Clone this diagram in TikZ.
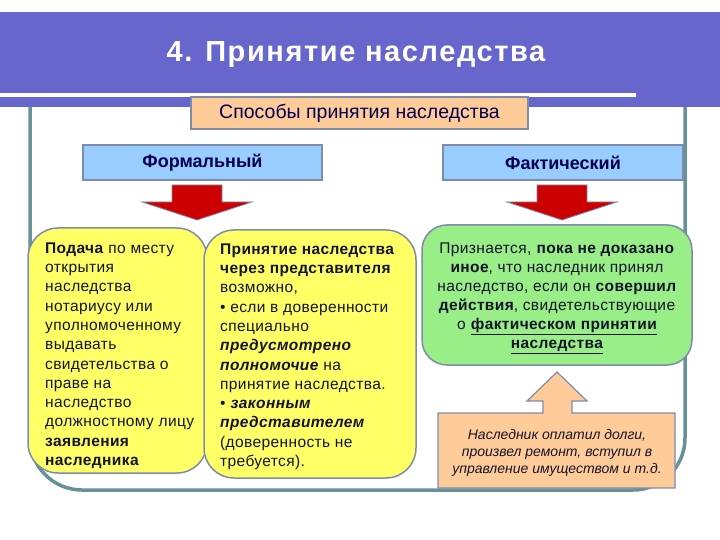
\documentclass[tikz,border=0pt]{standalone}
\usepackage{fontspec}
\setmainfont{Liberation Sans}
\definecolor{bandc}{RGB}{102,102,204}
\definecolor{framec}{RGB}{100,146,150}
\definecolor{edgec}{RGB}{125,140,170}
\definecolor{yboxc}{RGB}{255,255,102}
\definecolor{gboxc}{RGB}{153,238,136}
\definecolor{blueboxc}{RGB}{153,204,255}
\definecolor{peachc}{RGB}{255,204,153}
\definecolor{arrowred}{RGB}{204,0,0}
\definecolor{textc}{RGB}{20,20,40}
\definecolor{headc}{RGB}{0,0,80}
\begin{document}
\begin{tikzpicture}[x=1pt,y=-1pt,
  every node/.style={inner sep=0pt, text=textc},
  hdrbox/.style={draw=edgec, line width=1.2pt, fill=blueboxc, font=\fontsize{18}{21}\selectfont\bfseries, text=headc},
  waysbox/.style={draw=edgec, line width=1.2pt, fill=peachc, font=\fontsize{19.5}{23}\selectfont, text=headc},
  ybox/.style={draw=edgec, line width=1.5pt, fill=yboxc, rounded corners=30pt},
  gbox/.style={draw=edgec, line width=1.5pt, fill=gboxc, rounded corners=25pt},
  bodytext/.style={font=\fontsize{15.5}{19.3}\selectfont\addfontfeature{LetterSpace=2.5}, align=left},
  greentext/.style={font=\fontsize{15.5}{19.1}\selectfont\addfontfeature{LetterSpace=2.5}, align=center},
  calltext/.style={font=\fontsize{14}{17}\selectfont\itshape, align=center},
  titletext/.style={font=\fontsize{29}{34}\selectfont\bfseries\addfontfeature{LetterSpace=5.5}, text=white},
  redarrow/.pic={\path[fill=arrowred, draw=edgec, line width=0.8pt]
     (-25,0) -- (25,0) -- (25,17) -- (55,17) -- (0,35) -- (-55,17) -- (-25,17) -- cycle;}
]
\useasboundingbox (0,0) rectangle (720,540);
% outer frame
\draw[framec, line width=3.5pt, rounded corners=52pt] (30,100) -- (30,490) -- (685,490) -- (685,100);
% title band
\fill[bandc] (0,12) rectangle (720,107);
\fill[white] (0,93) rectangle (636,97);
\node[titletext, anchor=base] (title) at (356,62) {4. Принятие наследства};
% ways box
\node[waysbox, minimum width=337pt, minimum height=32pt] (ways) at (359.5,113) {Способы принятия наследства};
% header boxes
\node[hdrbox, minimum width=239pt, minimum height=35pt] (formal) at (202.5,162.5) {Формальный};
\node[hdrbox, minimum width=240pt, minimum height=35pt] (fact) at (563,162.5) {Фактический};
% red arrows
\pic (arrA) at (197,185) {redarrow};
\pic (arrB) at (562,185) {redarrow};
% yellow boxes
\node[ybox, minimum width=179pt, minimum height=245pt] (box1) at (117.5,350.5) {};
\node[ybox, minimum width=212pt, minimum height=248pt] (box2) at (310,354) {};
% green box
\node[gbox, minimum width=270pt, minimum height=140pt] (gbox) at (557,295) {};
% callout
\draw[edgec, line width=1.2pt, fill=peachc] (438,413) -- (543,413) -- (543,401) -- (527,401) -- (557,372) -- (587,401) -- (572,401) -- (572,413) -- (675,413) -- (675,488) -- (438,488) -- cycle;
% texts
\node[bodytext, anchor=north west] (t1) at (45,239.5) {\strut\textbf{Подача} по месту\\
открытия\\
наследства\\
нотариусу или\\
уполномоченному\\
выдавать\\
свидетельства о\\
праве на\\
наследство\\
должностному лицу\\
\textbf{заявления}\\
\textbf{наследника}};
\node[bodytext, anchor=north west] (t2) at (220,240.5) {\strut\textbf{Принятие наследства}\\
\textbf{через представителя}\\
возможно,\\
• если в доверенности\\
специально\\
\textbf{\textit{предусмотрено}}\\
\textbf{\textit{полномочие}} на\\
принятие наследства.\\
• \textbf{\textit{законным}}\\
\textbf{\textit{представителем}}\\
(доверенность не\\
требуется).};
\node[greentext, anchor=north] (t3) at (557,239.5) {\strut Признается, \textbf{пока не доказано}\\
\textbf{иное}, что наследник принял\\
наследство, если он \textbf{совершил}\\
\textbf{действия}, свидетельствующие\\
о \textbf{\underline{фактическом принятии}}\\
\textbf{\underline{наследства}}};
\node[calltext, anchor=north] (t4) at (557,427) {\strut Наследник оплатил долги,\\
произвел ремонт, вступил в\\
управление имуществом и т.д.};
\end{tikzpicture}
\end{document}
